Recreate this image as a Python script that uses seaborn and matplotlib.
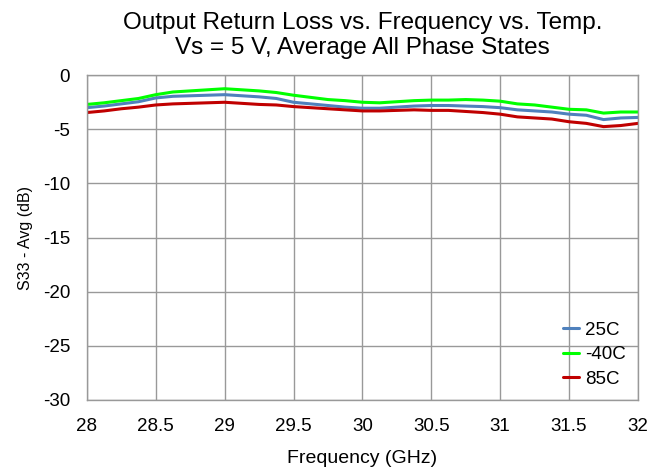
import numpy as np
import pandas as pd
import seaborn as sns
from matplotlib import pyplot as plt

freq = [28.0, 28.125, 28.25, 28.375, 28.5, 28.625, 28.75, 28.875,
        29.0, 29.125, 29.25, 29.375, 29.5, 29.625, 29.75, 29.875,
        30.0, 30.125, 30.25, 30.375, 30.5, 30.625, 30.75, 30.875,
        31.0, 31.125, 31.25, 31.375, 31.5, 31.625, 31.75, 31.875, 32.0]
s33_25c = [-3.00, -2.85, -2.65, -2.45, -2.10, -1.95, -1.90, -1.85,
           -1.80, -1.90, -2.00, -2.15, -2.50, -2.65, -2.80, -2.95,
           -3.05, -3.05, -2.95, -2.85, -2.80, -2.80, -2.85, -2.90,
           -3.00, -3.20, -3.30, -3.40, -3.60, -3.70, -4.10, -3.95, -3.90]
s33_m40c = [-2.70, -2.55, -2.35, -2.15, -1.80, -1.55, -1.45, -1.35,
            -1.25, -1.35, -1.45, -1.60, -1.85, -2.05, -2.25, -2.35,
            -2.50, -2.55, -2.45, -2.35, -2.30, -2.30, -2.25, -2.30,
            -2.40, -2.65, -2.75, -2.95, -3.15, -3.20, -3.50, -3.40, -3.40]
s33_85c = [-3.45, -3.30, -3.10, -2.95, -2.75, -2.65, -2.60, -2.55,
           -2.50, -2.60, -2.70, -2.75, -2.90, -3.00, -3.10, -3.20,
           -3.30, -3.30, -3.25, -3.20, -3.25, -3.25, -3.35, -3.45,
           -3.60, -3.85, -3.95, -4.05, -4.30, -4.45, -4.75, -4.65, -4.45]
temps = ['25C', '-40C', '85C']
colors = ['#4F81BD', '#00FF00', '#C00000']

df = pd.DataFrame({'freq': freq * 3,
                   's33': s33_25c + s33_m40c + s33_85c,
                   'temp': np.repeat(temps, len(freq))})

sns.set_style('white')
plt.rcParams['font.family'] = ['Liberation Sans', 'DejaVu Sans']
plt.rcParams['axes.unicode_minus'] = False
plt.rcParams['text.color'] = 'black'
plt.rcParams['axes.labelcolor'] = 'black'
plt.rcParams['xtick.color'] = 'black'
plt.rcParams['ytick.color'] = 'black'

fig = plt.figure(figsize=(6.53, 4.70), dpi=100)
ax = fig.add_axes([0.133, 0.149, 0.844, 0.691])
sns.lineplot(data=df, x='freq', y='s33', hue='temp', hue_order=temps,
             palette=colors, linewidth=2.2, ax=ax)

ax.set_xlim(28, 32)
ax.set_ylim(-30, 0)
ax.set_xticks(np.arange(28, 32.01, 0.5))
ax.set_xticklabels(['28', '28.5', '29', '29.5', '30', '30.5', '31', '31.5', '32'])
ax.set_yticks(np.arange(-30, 0.1, 5))
ax.tick_params(labelsize=13.5, length=0)
ax.tick_params(axis='x', pad=13)
ax.tick_params(axis='y', pad=12)
ax.grid(True, color='#999999', linewidth=1)
for s in ax.spines.values():
    s.set_color('#999999')
    s.set_linewidth(1)
ax.set_xlabel('Frequency (GHz)', fontsize=14, labelpad=11)
ax.set_ylabel('S33 - Avg (dB)', fontsize=11.5, labelpad=7)
ax.set_title('Output Return Loss vs. Frequency vs. Temp.\nVs = 5 V, Average All Phase States',
             fontsize=17.5, pad=15, linespacing=1.2)
ax.legend(loc='lower right', frameon=False, fontsize=13.5, handlelength=0.9,
          handletextpad=0.3, labelspacing=0.4, borderaxespad=0.25)

fig.savefig('out.png', dpi=100)
